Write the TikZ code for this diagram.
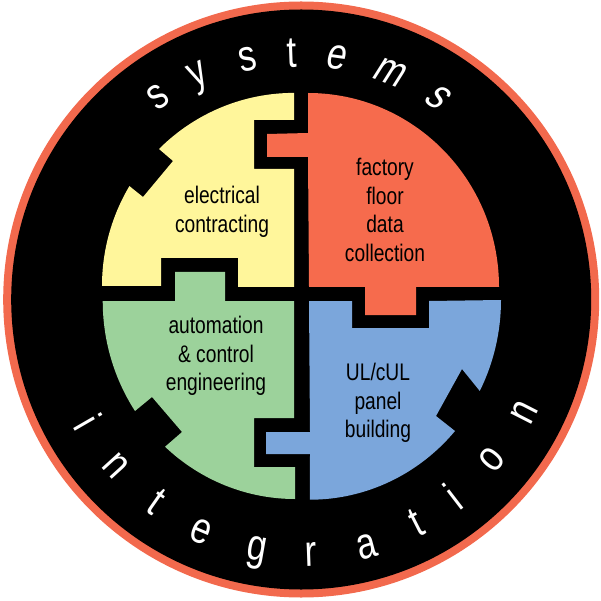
\documentclass[tikz,border=0pt]{standalone}
\usepackage{fontspec}
\usepackage{xcolor}
\usepackage{tikz}
\newfontfamily\labelfont[FakeStretch=0.8]{Liberation Sans}
\newfontfamily\ringfont[FakeStretch=0.8]{Liberation Sans}
\definecolor{ringorange}{RGB}{242, 105, 77}
\definecolor{pieceyellow}{RGB}{255, 246, 155}
\definecolor{piecered}{RGB}{246, 107, 77}
\definecolor{piecegreen}{RGB}{156, 210, 155}
\definecolor{pieceblue}{RGB}{123, 166, 219}
\tikzset{
    ringletter/.style={text=white, inner sep=0pt, font=\ringfont\fontsize{44}{44}\selectfont},
    piecelabel/.style={text=black, inner sep=0pt, align=center, font=\labelfont\fontsize{24}{28.5}\selectfont}
}

\begin{document}
\begin{tikzpicture}[x=1pt, y=1pt]
    \useasboundingbox (0,0) rectangle (601,600);

    % Ring and disc
    \fill[ringorange] (301.2,300.5) circle (298);
    \fill[black] (301.2,300.5) circle (290);

    % Yellow piece
    \fill[pieceyellow] (294,507) -- (294,480) -- (254,480) -- (254,431) -- (294,431) -- (294,313)
        -- (238,313) -- (238,342) -- (161,342) -- (161,314) -- (102,314)
        arc[start angle=180, end angle=149, x radius=192, y radius=194]
        -- (143,403) -- (173,439) -- (159,451)
        arc[start angle=134.7, end angle=90, x radius=192, y radius=194] -- cycle;

    % Red piece
    \fill[piecered] (308,507)
        arc[start angle=90, end angle=0, x radius=191, y radius=194]
        -- (416,313) -- (416,285) -- (365,285) -- (365,313) -- (309,313)
        -- (308,443) -- (267,443) -- (267,466) -- (308,467) -- cycle;

    % Green piece
    \fill[piecegreen] (103,299) -- (175,299) -- (175,328) -- (225,328) -- (225,299) -- (294,299)
        -- (294,182) -- (254,182) -- (254,133) -- (295,133) -- (295,101)
        arc[start angle=270, end angle=227.4, x radius=192, y radius=198]
        -- (182,168) -- (152,203) -- (135,189)
        arc[start angle=213.7, end angle=180, x radius=192, y radius=198] -- cycle;

    % Blue piece
    \fill[pieceblue] (309,299) -- (352,299) -- (352,272) -- (429,272) -- (429,299) -- (501,300)
        arc[start angle=0, end angle=-27.2, x radius=192, y radius=199]
        -- (462,231) -- (436,184) -- (455,169)
        arc[start angle=-40.9, end angle=-90, x radius=192, y radius=199]
        -- (310,146) -- (266,146) -- (266,168) -- (310,168) -- cycle;

    % Piece labels
    \node[piecelabel] at (222,388.4) (electrical) {electrical\\contracting};
    \node[piecelabel] at (385,390) (factory) {factory\\floor\\data\\collection};
    \node[piecelabel] at (216,244.1) (automation) {automation\\\& control\\engineering};
    \node[piecelabel] at (378,197.1) (panel) {UL/cUL\\panel\\building};

    % Top letters
    \foreach \ltr/\px/\py/\rot/\lean [count=\i] in {s/158/503/35/0, y/200/522/24.7/0, s/248/541/12/0, t/292/547/2/0, e/337/542/-8/0.12, m/391/527/-21/0.2, s/439/502/-35/0.25} {
        \node[ringletter, rotate=\rot, xslant=\lean] at (\px,\py) (top\i) {\ltr};
    }

    % Bottom letters
    \foreach \ltr/\px/\py/\rot [count=\i] in {i/88/178/-60, n/116/134/-47.7, t/157/98/-35, e/201/68/-23, g/256/47/-10, r/311/46/2, a/367/53/15, t/416/77/27, i/453/104/37.5, o/492/140/50, n/524/188/63} {
        \node[ringletter, rotate=\rot] at (\px,\py) (bottom\i) {\ltr};
    }

\end{tikzpicture}
\end{document}
